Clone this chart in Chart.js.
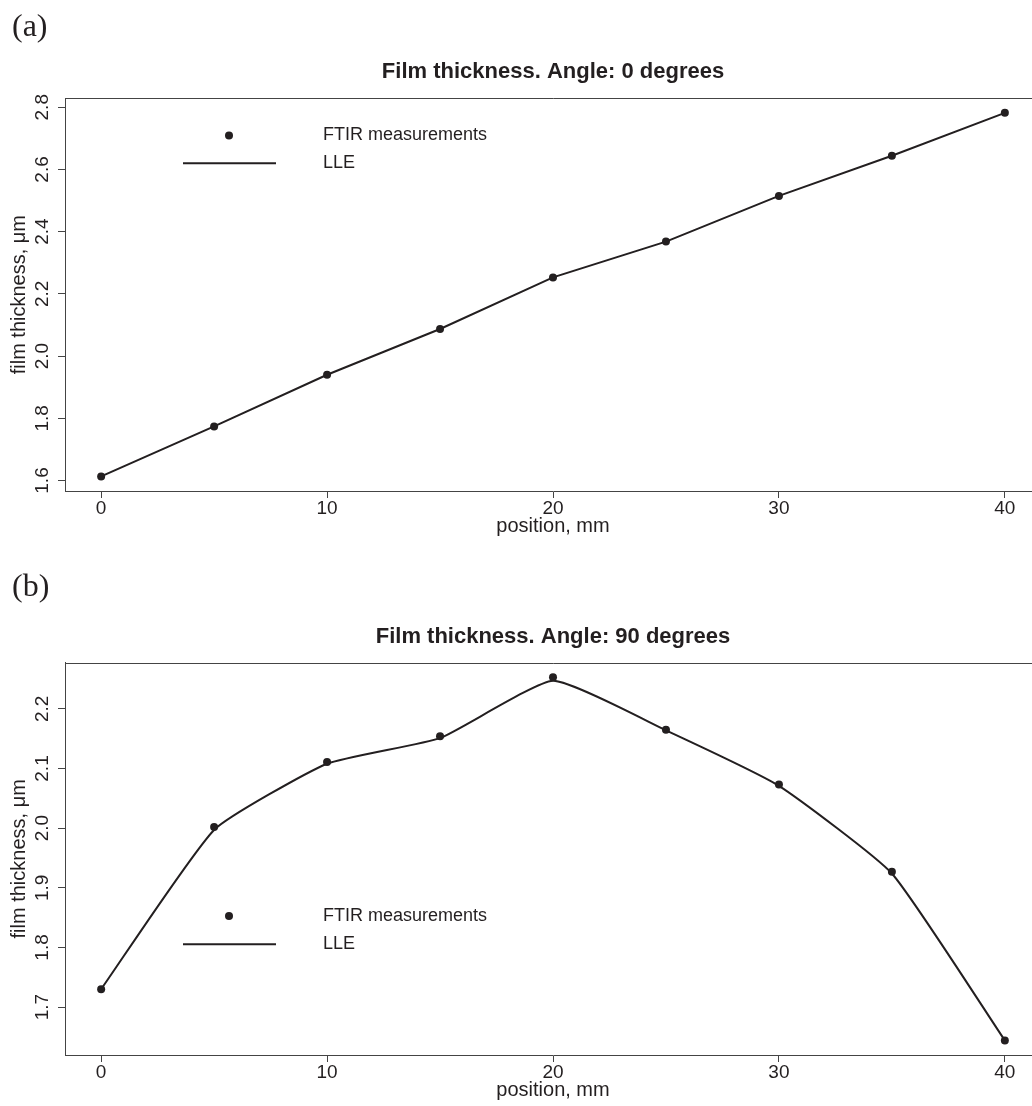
<!DOCTYPE html>
<html><head><meta charset="utf-8">
<script src="https://cdn.jsdelivr.net/npm/chart.js@4.4.1/dist/chart.umd.min.js"></script>
<style>
html,body{margin:0;padding:0;background:#fff;overflow:hidden;width:1032px;height:1106px;}
#wrap{position:relative;width:1032px;height:1106px;overflow:hidden;background:#fff;}
canvas{position:absolute;left:0;}
.lab{position:absolute;left:12px;font-family:'Liberation Serif','DejaVu Serif',serif;font-size:32px;line-height:32px;color:#231f20;}
</style></head><body>
<div id="wrap">
<canvas id="cA" width="1106" height="545" style="top:0"></canvas>
<canvas id="cB" width="1106" height="540" style="top:566px"></canvas>
<div class="lab" style="top:9px">(a)</div>
<div class="lab" style="top:569px">(b)</div>
</div>
<script>
// ---- data ----
const positions = [0, 5, 10, 15, 20, 25, 30, 35, 40];
const ftir0  = [1.613, 1.774, 1.940, 2.087, 2.253, 2.368, 2.515, 2.644, 2.782];
const lle0   = [1.613, 1.774, 1.940, 2.087, 2.253, 2.368, 2.515, 2.644, 2.782];
const ftir90 = [1.730, 2.002, 2.111, 2.154, 2.253, 2.165, 2.073, 1.927, 1.644];
const lle90  = [1.730, 1.997, 2.108, 2.151, 2.247, 2.164, 2.071, 1.924, 1.644];
const xTicks   = [0, 10, 20, 30, 40];
const yTicks0  = [1.6, 1.8, 2.0, 2.2, 2.4, 2.6, 2.8];
const yTicks90 = [1.7, 1.8, 1.9, 2.0, 2.1, 2.2];
const titles = ['Film thickness. Angle: 0 degrees', 'Film thickness. Angle: 90 degrees'];
const legendLabels = ['FTIR measurements', 'LLE'];
const xTitle = 'position, mm';
const yTitle = 'film thickness, \u03bcm';

// ---- styling ----
const TEXT = '#231f20';
const AXIS = '#444444';
const FONT = "'Liberation Sans', Arial, Helvetica, sans-serif";
Chart.defaults.font.family = FONT;
Chart.defaults.color = TEXT;

// R-style 4% axis extension
function rRange(vals) {
  const mn = Math.min(...vals), mx = Math.max(...vals), d = (mx - mn) * 0.04;
  return [mn - d, mx + d];
}
const xy = arr => positions.map((x, i) => ({x: x, y: arr[i]}));

const rPlugin = {
  id: 'rframe',
  afterDraw(chart, args, o) {
    const {ctx, chartArea: a} = chart;
    const ds = chart.data.datasets;
    ctx.save();
    ctx.strokeStyle = AXIS; ctx.lineWidth = 1;
    ctx.beginPath();
    const t = Math.round(a.top) + 0.5, r = Math.round(a.right) + 0.5;
    ctx.moveTo(a.left, t); ctx.lineTo(r, t); ctx.lineTo(r, a.bottom);
    ctx.stroke();
    // legend (R style)
    ctx.fillStyle = ds[0].pointBackgroundColor;
    ctx.beginPath(); ctx.arc(o.dotX, o.y1, ds[0].pointRadius, 0, Math.PI * 2); ctx.fill();
    ctx.strokeStyle = ds[1].borderColor; ctx.lineWidth = ds[1].borderWidth;
    ctx.beginPath(); ctx.moveTo(o.lineX0, o.y2); ctx.lineTo(o.lineX1, o.y2); ctx.stroke();
    ctx.fillStyle = TEXT; ctx.font = '18px ' + FONT;
    ctx.textAlign = 'left'; ctx.textBaseline = 'middle';
    ctx.fillText(ds[0].label, o.textX, o.y1);
    ctx.fillText(ds[1].label, o.textX, o.y2);
    ctx.restore();
  }
};

function makeChart(id, cfg) {
  const xr = rRange(positions);
  const yr = rRange(cfg.ftir.concat(cfg.lle));
  const grid = {display: true, drawOnChartArea: false, drawTicks: true, tickLength: 7, tickWidth: 1, tickColor: AXIS};
  return new Chart(document.getElementById(id), {
    type: 'line',
    data: {
      datasets: [
        {label: legendLabels[0], data: xy(cfg.ftir), showLine: false, pointRadius: 4, pointHoverRadius: 4,
         pointBackgroundColor: TEXT, backgroundColor: TEXT, borderColor: TEXT, pointBorderWidth: 0, order: 0},
        {label: legendLabels[1], data: xy(cfg.lle), showLine: true, pointRadius: 0, pointHoverRadius: 0,
         borderColor: TEXT, backgroundColor: TEXT, borderWidth: 2, tension: cfg.tension, fill: false, order: 1}
      ]
    },
    options: {
      responsive: false, animation: false, events: [],
      layout: {padding: 0},
      scales: {
        x: {
          type: 'linear', position: 'bottom', min: xr[0], max: xr[1],
          afterBuildTicks: s => { s.ticks = xTicks.map(v => ({value: v})); },
          afterFit: s => { s.height = cfg.xH; },
          grid: grid, border: {display: true, color: AXIS, width: 1},
          ticks: {autoSkip: false, minRotation: 0, maxRotation: 0, padding: 1, color: TEXT,
                  font: {size: 19, lineHeight: 1}},
          title: {display: true, text: xTitle, color: TEXT, font: {size: 20, lineHeight: 1.2},
                  padding: {top: 0, bottom: cfg.xTitlePad}}
        },
        y: {
          type: 'linear', position: 'left', min: yr[0], max: yr[1],
          afterBuildTicks: s => { s.ticks = cfg.yTicks.map(v => ({value: v})); },
          afterFit: s => { s.width = 65; },
          grid: grid, border: {display: true, color: AXIS, width: 1},
          ticks: {autoSkip: false, minRotation: 90, maxRotation: 90, crossAlign: 'center', padding: 2,
                  color: TEXT, font: {size: 19, lineHeight: 1},
                  callback: v => Number(v).toFixed(1)},
          title: {display: true, text: yTitle, color: TEXT, font: {size: 20, lineHeight: 1.2},
                  padding: {top: 7, bottom: 0}}
        },
        yR: {
          type: 'linear', position: 'right', display: true,
          grid: {display: false}, border: {display: false}, ticks: {display: false},
          afterFit: s => { s.width = 65; }
        }
      },
      plugins: {
        legend: {display: false}, tooltip: {enabled: false},
        title: {display: true, text: cfg.title, color: TEXT,
                font: {size: 22, weight: 'bold', lineHeight: 1.2},
                padding: {top: cfg.tTop, bottom: cfg.tBot}},
        rframe: cfg.legend
      }
    },
    plugins: [rPlugin]
  });
}

makeChart('cA', {ftir: ftir0, lle: lle0, yTicks: yTicks0, title: titles[0], tension: 0,
  xH: 54, xTitlePad: 7, tTop: 58.5, tBot: 13.4,
  legend: {dotX: 229, y1: 135.5, lineX0: 183, lineX1: 276, y2: 163.3, textX: 323}});
makeChart('cB', {ftir: ftir90, lle: lle90, yTicks: yTicks90, title: titles[1], tension: 0.15,
  xH: 51, xTitlePad: 4, tTop: 57.8, tBot: 12.5,
  legend: {dotX: 229, y1: 350, lineX0: 183, lineX1: 276, y2: 378.3, textX: 323}});
</script>
</body></html>
